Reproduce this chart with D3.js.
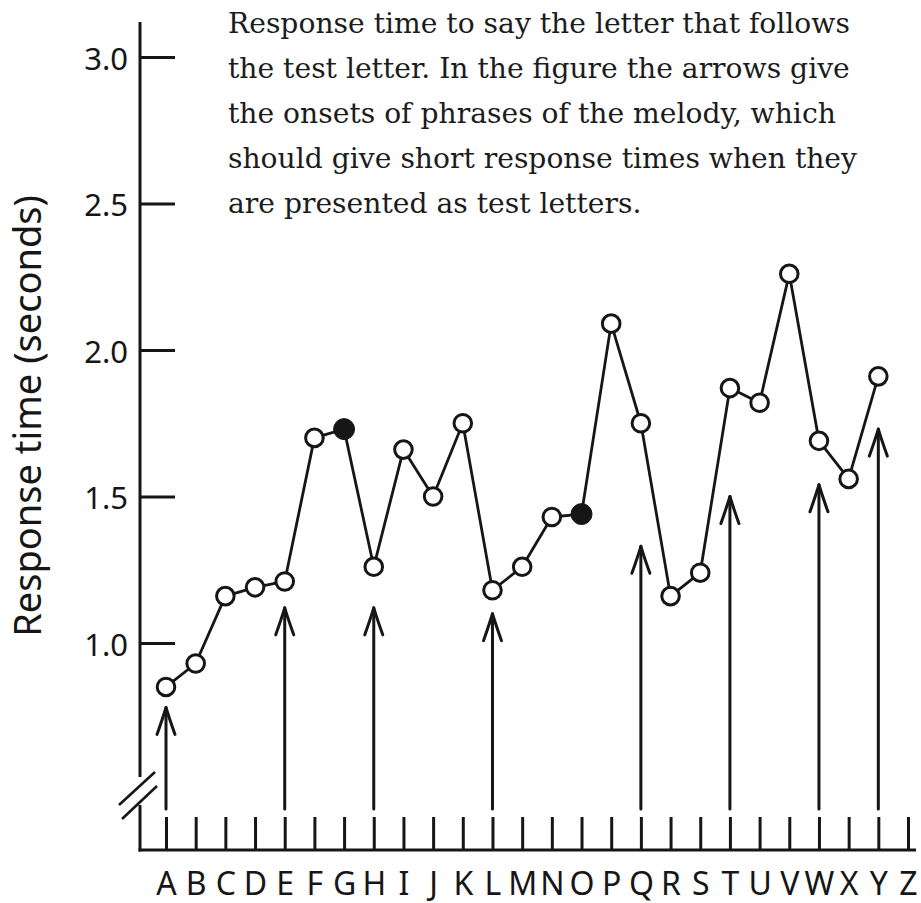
<!DOCTYPE html>
<html>
<head>
<meta charset="utf-8">
<script src="https://cdn.jsdelivr.net/npm/d3@7/dist/d3.min.js"></script>
<style>
  html, body { margin: 0; padding: 0; background: #fff; }
  svg { display: block; }
</style>
</head>
<body>
<svg id="chart" width="921" height="903"></svg>
<script>
// Test letters along the horizontal axis
const letters = ["A","B","C","D","E","F","G","H","I","J","K","L","M",
                 "N","O","P","Q","R","S","T","U","V","W","X","Y","Z"];
// Mean response time (s) for each test letter A..Y
const responseTimes = [0.85, 0.93, 1.16, 1.19, 1.21, 1.70, 1.73, 1.26, 1.66, 1.50,
                       1.75, 1.18, 1.26, 1.43, 1.44, 2.09, 1.75, 1.16, 1.24, 1.87,
                       1.82, 2.26, 1.69, 1.56, 1.91];
// Letters drawn as filled dots
const filledLetters = ["G", "O"];
// Phrase onsets of the melody (arrows) and the level each arrow reaches
const phraseOnsets = ["A", "E", "H", "L", "Q", "T", "W", "Y"];
const arrowTips    = [0.78, 1.12, 1.12, 1.10, 1.33, 1.50, 1.54, 1.73];
// Y tick values
const yTicks = [1.0, 1.5, 2.0, 2.5, 3.0];
// Caption lines
const captionLines = [
  "Response time to say the letter that follows",
  "the test letter. In the figure the arrows give",
  "the onsets of phrases of the melody, which",
  "should give short response times when they",
  "are presented as test letters."
];
const yLabel = "Response time (seconds)";

const svg = d3.select("#chart");
const ink = "#161616";

// Frame geometry
const axisX = 140, axisTop = 22, axisBottom = 850;
const breakTop = 777, breakBottom = 805;
const arrowBase = 809;
const xRight = 916;

const x = d3.scalePoint().domain(letters).range([166, 908]);
const y = d3.scaleLinear().domain([1, 3]).range([643, 57]);

// Vertical axis with a break near the bottom
svg.append("line").attr("x1", axisX).attr("x2", axisX)
  .attr("y1", axisTop).attr("y2", breakTop)
  .attr("stroke", ink).attr("stroke-width", 3);
svg.append("line").attr("x1", axisX).attr("x2", axisX)
  .attr("y1", breakBottom).attr("y2", axisBottom + 1.5)
  .attr("stroke", ink).attr("stroke-width", 3);
[[119, 805, 155, 772], [122, 819, 157, 786]].forEach(s => {
  svg.append("line").attr("x1", s[0]).attr("y1", s[1]).attr("x2", s[2]).attr("y2", s[3])
    .attr("stroke", ink).attr("stroke-width", 2.6);
});

// Y ticks and labels
const yAxis = d3.axisLeft(y).tickValues(yTicks)
  .tickFormat(d3.format(".1f"))
  .tickSizeInner(-35).tickSizeOuter(0).tickPadding(12);
const gy = svg.append("g").attr("transform", `translate(${axisX},0)`).call(yAxis);
gy.select(".domain").remove();
gy.selectAll(".tick line").attr("stroke", ink).attr("stroke-width", 3);
gy.selectAll(".tick text")
  .attr("fill", ink)
  .attr("font-family", "'Noto Sans', sans-serif")
  .attr("font-size", 31)
  .attr("dy", "0.40em");

// Horizontal axis with letter ticks
svg.append("line").attr("x1", axisX - 1.5).attr("x2", xRight)
  .attr("y1", axisBottom).attr("y2", axisBottom)
  .attr("stroke", ink).attr("stroke-width", 3);
const xAxis = d3.axisBottom(x).tickSizeInner(-33).tickSizeOuter(0).tickPadding(22);
const gx = svg.append("g").attr("transform", `translate(0,${axisBottom})`).call(xAxis);
gx.select(".domain").remove();
gx.selectAll(".tick line").attr("stroke", ink).attr("stroke-width", 3);
gx.selectAll(".tick text")
  .attr("fill", ink)
  .attr("font-family", "'Noto Sans', sans-serif")
  .attr("font-size", 32);

// Y axis title
svg.append("text")
  .attr("transform", `translate(41,416) rotate(-90)`)
  .attr("text-anchor", "middle")
  .attr("font-family", "'Noto Sans', sans-serif")
  .attr("font-size", 38)
  .attr("fill", ink)
  .text(yLabel);

// Phrase-onset arrows
const arrows = phraseOnsets.map((l, i) => ({ letter: l, tip: arrowTips[i] }));
const ga = svg.append("g").attr("stroke", ink).attr("fill", "none")
  .attr("stroke-width", 3).attr("stroke-linecap", "round").attr("stroke-linejoin", "round");
ga.selectAll("line").data(arrows).join("line")
  .attr("x1", d => x(d.letter)).attr("x2", d => x(d.letter))
  .attr("y1", arrowBase).attr("y2", d => y(d.tip));
ga.selectAll("path").data(arrows).join("path")
  .attr("d", d => {
    const px = x(d.letter), py = y(d.tip);
    return `M${px - 9},${py + 27} Q${px - 3},${py + 10} ${px},${py} Q${px + 3},${py + 10} ${px + 9},${py + 27}`;
  });

// Response-time line
const pts = responseTimes.map((v, i) => ({ letter: letters[i], value: v }));
svg.append("path").datum(pts)
  .attr("fill", "none").attr("stroke", ink).attr("stroke-width", 2.8)
  .attr("stroke-linejoin", "round")
  .attr("d", d3.line().x(d => x(d.letter)).y(d => y(d.value)));

// Markers
svg.append("g").selectAll("circle").data(pts).join("circle")
  .attr("cx", d => x(d.letter)).attr("cy", d => y(d.value))
  .attr("r", d => filledLetters.includes(d.letter) ? 10.5 : 8.8)
  .attr("fill", d => filledLetters.includes(d.letter) ? ink : "#fff")
  .attr("stroke", ink)
  .attr("stroke-width", d => filledLetters.includes(d.letter) ? 1 : 3);

// Caption block, sized so the first line spans its column
const cap = svg.append("g")
  .attr("font-family", "'DejaVu Serif', serif")
  .attr("fill", "#1c1c1c");
const capLines = cap.selectAll("text").data(captionLines).join("text")
  .attr("x", 228)
  .attr("y", (d, i) => 33 + i * 45)
  .attr("font-size", 27)
  .text(d => d);
const w0 = capLines.nodes()[0].getComputedTextLength();
const fs = 27 * 622 / w0;
capLines.attr("font-size", fs);
</script>
</body>
</html>
